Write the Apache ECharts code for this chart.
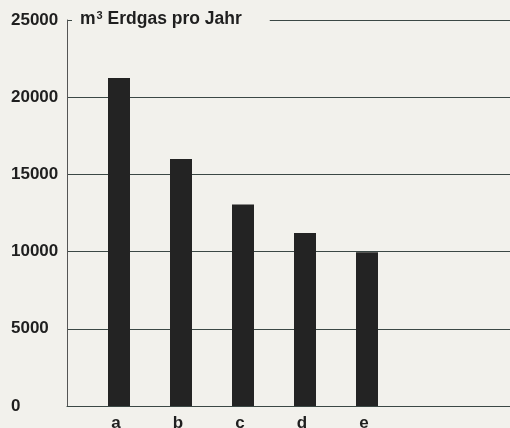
<!DOCTYPE html>
<html>
<head>
<meta charset="utf-8">
<script src="https://cdn.jsdelivr.net/npm/echarts@6/dist/echarts.min.js"></script>
<style>
  html, body { margin: 0; padding: 0; background: #f2f1ec; }
  #chart { width: 510px; height: 428px; }
</style>
</head>
<body>
<div id="chart"></div>
<script>
// Erdgasverbrauch pro Jahr
const categories = ['a', 'b', 'c', 'd', 'e']
const gasValues = [21250, 16000, 13050, 11200, 9950]
const yMax = 25000
const yStep = 5000

const bg = '#f2f1ec'
const ink = '#1f1f1f'
const lineColor = '#3b4845'
const font = 'Liberation Sans, Arial, sans-serif'

const chart = echarts.init(document.getElementById('chart'))
chart.setOption({
  backgroundColor: bg,
  animation: false,
  title: {
    text: '{m|m}{s|3}{m| Erdgas pro Jahr}',
    left: 72,
    top: 7,
    padding: [3, 28, 3, 8],
    backgroundColor: bg,
    textStyle: {
      rich: {
        m: { fontFamily: font, fontWeight: 'bold', fontSize: 17.5, color: ink },
        s: { fontFamily: font, fontWeight: 'bold', fontSize: 11, color: ink, verticalAlign: 'top', padding: [0, 0, 8, 1] }
      }
    },
    z: 10
  },
  grid: [
    { left: 67, right: 0, top: 20, bottom: 22, outerBoundsMode: 'none' },
    { left: 88, width: 310, top: 20, bottom: 22, outerBoundsMode: 'none' }
  ],
  xAxis: [
    {
      gridIndex: 0,
      type: 'value',
      min: 0,
      max: 1,
      axisLine: { show: true, lineStyle: { color: lineColor, width: 1 } },
      axisTick: { show: false },
      axisLabel: { show: false },
      splitLine: { show: false }
    },
    {
      gridIndex: 1,
      type: 'category',
      data: categories,
      axisLine: { show: false },
      axisTick: { show: false },
      axisLabel: {
        margin: 9,
        fontFamily: font,
        fontWeight: 'bold',
        fontSize: 17,
        color: ink,
        padding: [0, 6, 0, 0]
      }
    }
  ],
  yAxis: [
    {
      gridIndex: 0,
      type: 'value',
      min: 0,
      max: yMax,
      interval: yStep,
      axisLine: { show: true, lineStyle: { color: '#555', width: 1 } },
      axisTick: { show: false },
      axisLabel: {
        align: 'left',
        margin: 56,
        formatter: (v) => String(v),
        fontFamily: font,
        fontWeight: 'bold',
        fontSize: 17,
        color: ink
      },
      splitLine: { show: true, lineStyle: { color: lineColor, width: 1 } }
    },
    {
      gridIndex: 1,
      type: 'value',
      min: 0,
      max: yMax,
      interval: yStep,
      show: false,
      splitLine: { show: false }
    }
  ],
  series: [
    {
      name: 'Erdgas',
      type: 'bar',
      xAxisIndex: 1,
      yAxisIndex: 1,
      data: gasValues,
      barWidth: 22,
      itemStyle: { color: '#232323' },
      z: 5
    }
  ]
})
</script>
</body>
</html>
